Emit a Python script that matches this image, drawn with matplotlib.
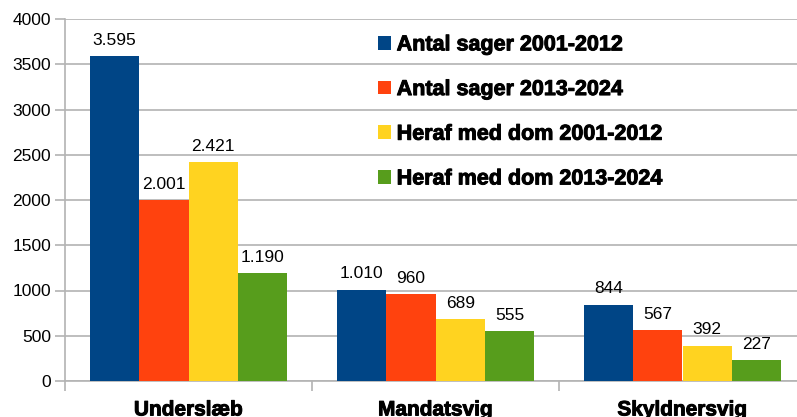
import numpy as np
import matplotlib
matplotlib.use("Agg")
import matplotlib.pyplot as plt
import matplotlib.patheffects as pe

plt.rcParams["font.family"] = ["Liberation Sans", "DejaVu Sans"]

categories = ["Underslæb", "Mandatsvig", "Skyldnersvig"]
series_names = [
    "Antal sager 2001-2012",
    "Antal sager 2013-2024",
    "Heraf med dom 2001-2012",
    "Heraf med dom 2013-2024",
]
antal_2001_2012 = [3595, 1010, 844]
antal_2013_2024 = [2001, 960, 567]
dom_2001_2012 = [2421, 689, 392]
dom_2013_2024 = [1190, 555, 227]
y_ticks = [0, 500, 1000, 1500, 2000, 2500, 3000, 3500, 4000]

colors = ["#004586", "#ff420e", "#ffd320", "#579d1c"]
grid_col = "#b3b3b3"
heavy = [pe.withStroke(linewidth=0.7, foreground="black")]

fig = plt.figure(figsize=(7.97, 4.17), dpi=100)
ax = fig.add_axes([65 / 797, 36 / 417, 741 / 797, 362 / 417])

x = np.arange(len(categories))
width = 0.2
all_series = [antal_2001_2012, antal_2013_2024, dom_2001_2012, dom_2013_2024]
for i, vals in enumerate(all_series):
    pos = x - 0.3 + i * width
    bars = ax.bar(pos, vals, width, color=colors[i], label=series_names[i], zorder=3)
    for b, v in zip(bars, vals):
        ax.text(
            b.get_x() + b.get_width() / 2,
            v + 90,
            f"{v:,}".replace(",", "."),
            ha="center",
            va="bottom",
            fontsize=12.5,
            color="black",
        )

ax.set_xlim(-0.5, 2.5)
ax.set_ylim(0, 4000)
ax.set_yticks(y_ticks)
ax.set_yticklabels([str(t) for t in y_ticks], fontsize=12.5)
ax.yaxis.grid(True, color=grid_col, linewidth=1.2, zorder=0)

ax.set_xticks([-0.5, 0.5, 1.5, 2.5])
ax.set_xticklabels([])
ax.set_xticks(x, minor=True)
ax.set_xticklabels(categories, minor=True, fontsize=15, fontweight="bold")
for t in ax.get_xticklabels(minor=True):
    t.set_path_effects(heavy)
ax.tick_params(axis="x", which="minor", length=0, pad=14)
ax.tick_params(axis="x", which="major", length=7, color=grid_col, width=1.2)
ax.tick_params(axis="y", length=7, color=grid_col, width=1.2, pad=3)

for s in ["top", "right"]:
    ax.spines[s].set_visible(False)
ax.spines["left"].set_color(grid_col)
ax.spines["bottom"].set_color(grid_col)
ax.spines["left"].set_linewidth(1.2)
ax.spines["bottom"].set_linewidth(1.2)

leg = ax.legend(
    loc="upper left",
    bbox_to_anchor=(359 / 797, 1 - 15 / 417),
    bbox_transform=fig.transFigure,
    frameon=False,
    prop={"size": 15.5, "weight": "bold"},
    handlelength=0.6,
    handleheight=0.6,
    handletextpad=0.25,
    labelspacing=1.1,
)
for t in leg.get_texts():
    t.set_path_effects(heavy)

fig.savefig("out.png", dpi=100)
